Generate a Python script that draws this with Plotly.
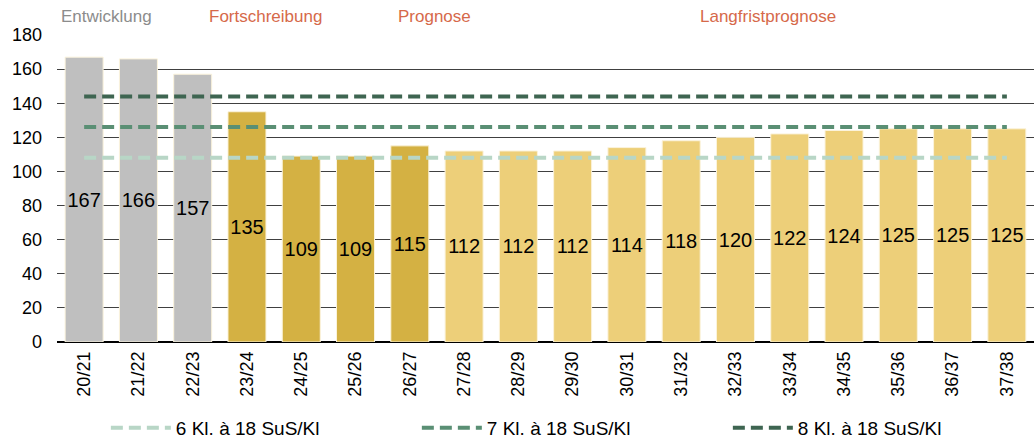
import plotly.graph_objects as go

categories = ["20/21", "21/22", "22/23", "23/24", "24/25", "25/26", "26/27", "27/28", "28/29",
              "29/30", "30/31", "31/32", "32/33", "33/34", "34/35", "35/36", "36/37", "37/38"]
values = [167, 166, 157, 135, 109, 109, 115, 112, 112, 112, 114, 118, 120, 122, 124, 125, 125, 125]
phase = ["E", "E", "E", "F", "F", "F", "F", "L", "L", "L", "L", "L", "L", "L", "L", "L", "L", "L"]
ref_names = ["6 Kl. à 18 SuS/Kl", "7 Kl. à 18 SuS/Kl", "8 Kl. à 18 SuS/Kl"]
ref_values = [108, 126, 144]
y_ticks = [0, 20, 40, 60, 80, 100, 120, 140, 160, 180]

phase_colors = {"E": "#bfbfbf", "F": "#d4b143", "L": "#edcf79"}
ref_colors = ["#b8d6c6", "#5a8f74", "#3e6551"]

fig = go.Figure()
fig.add_trace(go.Bar(
    x=categories, y=values,
    marker=dict(color=[phase_colors[p] for p in phase], line=dict(color="#fbf3dc", width=1)),
    text=[str(v) for v in values], textposition="inside", insidetextanchor="middle",
    textangle=0,
    textfont=dict(family="Liberation Sans, Arial", size=20, color="#000000"),
    showlegend=False, hoverinfo="skip", cliponaxis=False,
))
for name, val, col in zip(ref_names, ref_values, ref_colors):
    fig.add_trace(go.Scatter(
        x=categories, y=[val] * len(categories), mode="lines", name=name,
        line=dict(color=col, width=4, dash="12px,6px"),
    ))

top_labels = [("Entwicklung", 0.051, "#8c8c8c"), ("Fortschreibung", 0.213, "#d6694a"),
              ("Prognose", 0.386, "#d6694a"), ("Langfristprognose", 0.728, "#d6694a")]
for txt, xp, col in top_labels:
    fig.add_annotation(text=txt, x=xp, y=1.0, xref="paper", yref="paper", yshift=19,
                       showarrow=False, font=dict(family="Liberation Sans, Arial", size=17, color=col),
                       xanchor="center", yanchor="middle")

fig.update_layout(
    width=1036, height=439,
    margin=dict(l=57, r=2, t=35, b=97, autoexpand=False),
    plot_bgcolor="white", paper_bgcolor="white",
    font=dict(family="Liberation Sans, Arial", size=18, color="#000000"),
    bargap=0.3,
    uniformtext=dict(minsize=20, mode="show"),
    xaxis=dict(tickangle=-90, showgrid=False, showline=False, ticks="",
               ticklabelstandoff=5, tickfont=dict(size=18), fixedrange=True),
    yaxis=dict(range=[0, 180], tickvals=y_ticks, showgrid=True, gridcolor="#404040", gridwidth=1,
               zeroline=True, zerolinecolor="#000000", zerolinewidth=2,
               ticklabelstandoff=14, tickfont=dict(size=18), fixedrange=True),
    legend=dict(orientation="h", x=0.05, xanchor="left", y=-0.28, yanchor="middle",
                entrywidth=236, entrywidthmode="pixels", tracegroupgap=0,
                font=dict(family="Liberation Sans, Arial", size=19), itemwidth=60,
                bgcolor="rgba(0,0,0,0)"),
    showlegend=True,
)

fig.write_html("out.html")
